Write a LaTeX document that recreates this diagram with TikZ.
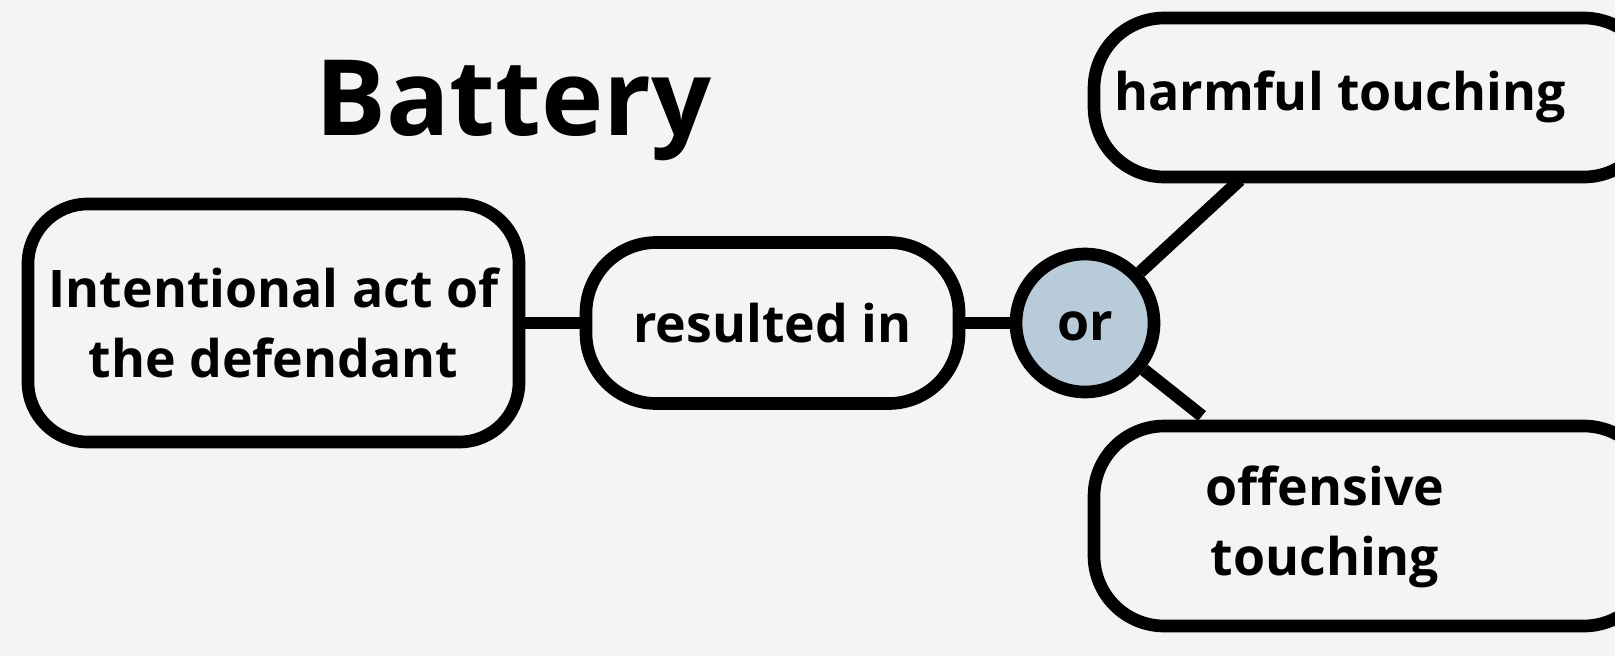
\documentclass[tikz,border=0pt]{standalone}
\usepackage{fontspec}
\setmainfont{Open Sans}
\definecolor{bg}{HTML}{F4F4F4}
\definecolor{orfill}{HTML}{B7CBD8}
\begin{document}
\begin{tikzpicture}[x=0.02cm,y=-0.02cm,
  box/.style={draw=black, line width=7.2pt, rounded corners=34pt, fill=bg, inner sep=0pt},
  lbl/.style={font=\bfseries\fontsize{29.5}{40}\selectfont, align=center, inner sep=0pt},
  conn/.style={draw=black, line width=7.2pt}]
\fill[bg] (0,0) rectangle (1615,656);
\useasboundingbox (0,0) rectangle (1615,656);
\node[font=\bfseries\fontsize{60}{70}\selectfont, inner sep=0pt, anchor=base] (title) at (513.5,135) {Battery};
\node[box, minimum width=491*0.02cm, minimum height=238*0.02cm] (lb) at (273.5,323) {};
\node[lbl] (lbt) at (273.5,323) {Intentional act of\\the defendant};
\node[box, rounded corners=40pt, minimum width=373*0.02cm, minimum height=161*0.02cm] (rb) at (772.5,323) {};
\node[lbl] (rbt) at (772.5,323) {resulted in};
\node[circle, draw=black, line width=7.2pt, fill=orfill, minimum size=138*0.02cm, inner sep=0pt] (orc) at (1085,323) {};
\node[lbl] (ort) at (1085,326) {or};
\node[box, rounded corners=40pt, minimum width=560*0.02cm, minimum height=159*0.02cm] (hb) at (1374,97.5) {};
\node[lbl] (hbt) at (1340,97) {harmful touching};
\node[box, rounded corners=40pt, minimum width=560*0.02cm, minimum height=200*0.02cm] (ob) at (1374,526) {};
\node[lbl] (obt) at (1325,527) {offensive\\touching};
\coordinate (h1) at (1240,180);
\coordinate (o1) at (1202,416);
\draw[conn] (lb) -- (rb);
\draw[conn] (rb) -- (orc);
\draw[conn] (orc) -- (h1);
\draw[conn] (orc) -- (o1);
\end{tikzpicture}
\end{document}
